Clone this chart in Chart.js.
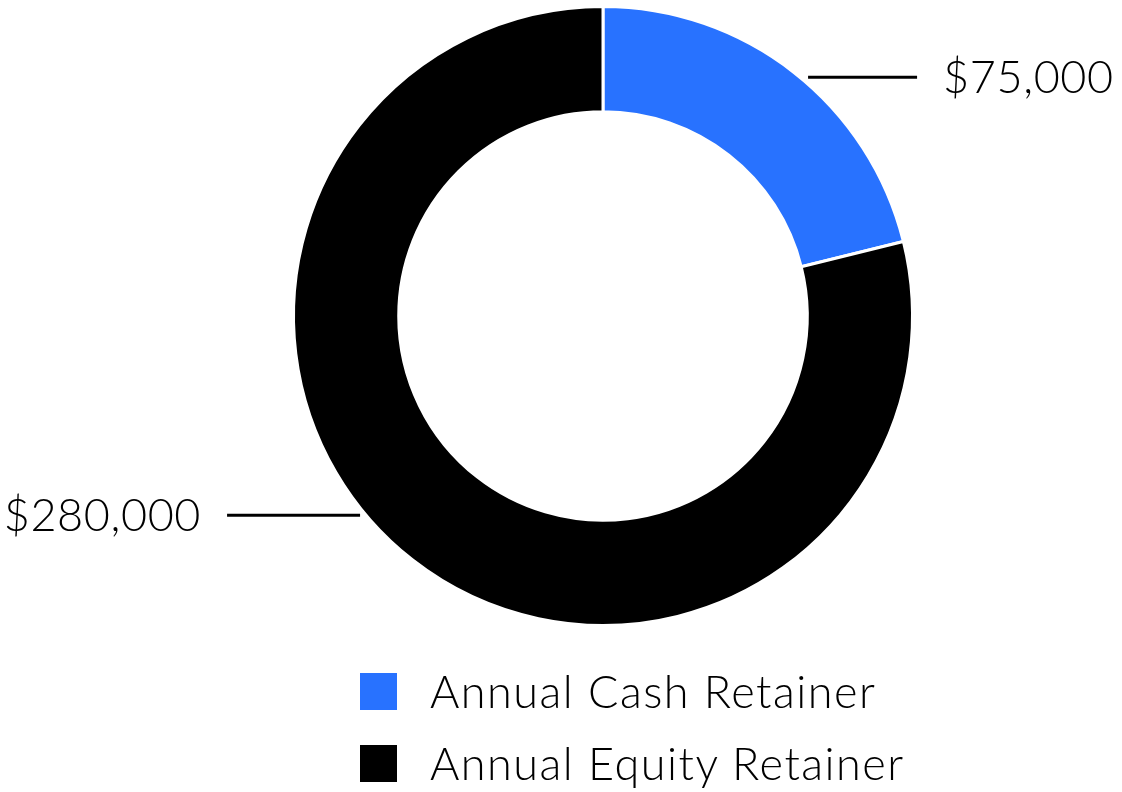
<!DOCTYPE html>
<html>
<head>
<meta charset="utf-8">
<script src="https://cdn.jsdelivr.net/npm/chart.js@4"></script>
<style>
  html, body { margin: 0; padding: 0; background: #fff; }
  #wrap { position: relative; width: 1122px; height: 792px; }
  canvas { position: absolute; left: 0; top: 0; }
  .legend { position: absolute; left: 360px; top: 663px; font-family: Lato, sans-serif; font-weight: 300; font-size: 45px; letter-spacing: 1.5px; color: #000; }
  .item { display: flex; align-items: center; height: 56px; margin-bottom: 16px; }
  .box { width: 37px; height: 37px; margin-right: 33px; }
</style>
</head>
<body>
<div id="wrap">
  <canvas id="c" width="1122" height="792"></canvas>
  <div class="legend" id="legend"></div>
</div>
<script>
const categories = ["Annual Cash Retainer", "Annual Equity Retainer"];
const values = [75000, 280000];
const valueLabels = ["$75,000", "$280,000"];
const colors = ["#2872FF", "#000000"];

const leaderPlugin = {
  id: 'leaders',
  afterDatasetsDraw(chart, args, opts) {
    const ctx = chart.ctx;
    const meta = chart.getDatasetMeta(0);
    meta.data.forEach((arc, i) => {
      const p = arc.getProps(['x', 'y', 'startAngle', 'endAngle', 'outerRadius'], true);
      const a = p.startAngle + (p.endAngle - p.startAngle) * opts.fractions[i];
      const px = p.x + Math.cos(a) * p.outerRadius;
      const py = p.y + Math.sin(a) * p.outerRadius;
      const right = Math.cos(a) >= 0;
      ctx.save();
      ctx.strokeStyle = '#000';
      ctx.lineWidth = 3;
      ctx.beginPath();
      if (right) {
        ctx.moveTo(px + 8, py); ctx.lineTo(px + 117, py);
      } else {
        ctx.moveTo(px - 6, py); ctx.lineTo(px - 139, py);
      }
      ctx.stroke();
      ctx.fillStyle = '#000';
      ctx.font = '300 45px Lato, sans-serif';
      ctx.letterSpacing = '0.6px';
      ctx.textBaseline = 'middle';
      if (right) {
        ctx.textAlign = 'left';
        ctx.fillText(valueLabels[i], px + 143, py + 1);
      } else {
        ctx.textAlign = 'right';
        ctx.fillText(valueLabels[i], px - 165, py + 1);
      }
      ctx.restore();
    });
  }
};

new Chart(document.getElementById('c'), {
  type: 'doughnut',
  data: {
    labels: categories,
    datasets: [{
      data: values,
      backgroundColor: colors,
      borderColor: '#ffffff',
      borderWidth: 3,
      hoverOffset: 0
    }]
  },
  options: {
    responsive: false,
    animation: false,
    cutout: '66%',
    layout: { padding: { top: 5, bottom: 165, left: 292, right: 208 } },
    plugins: {
      legend: { display: false },
      tooltip: { enabled: false },
      leaders: { fractions: [0.52, 0.542] }
    }
  },
  plugins: [leaderPlugin]
});

const leg = document.getElementById('legend');
categories.forEach((c, i) => {
  const it = document.createElement('div');
  it.className = 'item';
  const b = document.createElement('div');
  b.className = 'box';
  b.style.background = colors[i];
  const t = document.createElement('span');
  t.textContent = c;
  it.appendChild(b); it.appendChild(t);
  leg.appendChild(it);
});
</script>
</body>
</html>
